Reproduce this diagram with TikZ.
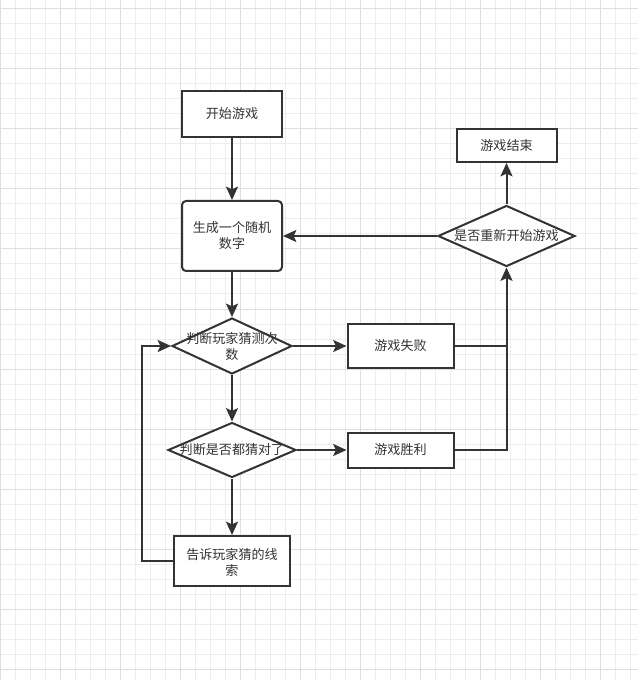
\documentclass[tikz,border=0pt]{standalone}
\usepackage{fontspec}
\setmainfont{Noto Sans CJK SC}
\usetikzlibrary{arrows.meta,shapes.geometric}
\definecolor{ln}{HTML}{333333}
\definecolor{gminor}{HTML}{EDEDED}
\definecolor{gmajor}{HTML}{DEDEDE}
\tikzset{
  box/.style={draw=ln, line width=1.5pt, fill=white, inner sep=0pt},
  dia/.style={draw=ln, line width=1.5pt, fill=white, diamond, inner sep=0pt, aspect=2},
  txt/.style={text=ln, align=center, font=\fontsize{9.8}{12}\selectfont, inner sep=0pt},
  conn/.style={draw=ln, line width=1.5pt},
  arr/.style={conn, -{Stealth[length=10pt,width=9pt,inset=2pt]}},
}
\begin{document}
\begin{tikzpicture}[x=0.75pt,y=-0.75pt]
\fill[white] (0,0) rectangle (638,680);
\useasboundingbox (0,0) rectangle (638,680);
% grid
\foreach \x in {0,15,...,630} \draw[gminor, line width=0.75pt] (\x,0) -- (\x,680);
\foreach \y in {9,24,...,669} \draw[gminor, line width=0.75pt] (0,\y) -- (638,\y);
\foreach \x in {0,60,...,600} \draw[gmajor, line width=0.75pt] (\x,0) -- (\x,680);
\foreach \y in {9,69,...,669} \draw[gmajor, line width=0.75pt] (0,\y) -- (638,\y);

% nodes
\node[box, minimum width=75pt, minimum height=34.5pt] (start) at (232,114) {};
\node[txt] (startT) at (start) {开始游戏};
\node[box, rounded corners=3pt, minimum width=75pt, minimum height=52.5pt] (gen) at (232,236) {};
\node[txt] (genT) at (232,236) {生成一个随机\\数字};
\node[dia, minimum width=90pt, minimum height=42pt] (d1) at (232,346) {};
\node[txt] (d1T) at (232,347) {判断玩家猜测次\\数};
\node[dia, minimum width=96pt, minimum height=41.25pt] (d2) at (232,450) {};
\node[txt] (d2T) at (232,450) {判断是否都猜对了};
\node[box, minimum width=87pt, minimum height=37.5pt] (clue) at (232,561) {};
\node[txt] (clueT) at (232,562) {告诉玩家猜的线\\索};
\node[box, minimum width=79.5pt, minimum height=33pt] (fail) at (400.5,346) {};
\node[txt] (failT) at (fail) {游戏失败};
\node[box, minimum width=79.5pt, minimum height=26.25pt] (win) at (400.5,450) {};
\node[txt] (winT) at (win) {游戏胜利};
\node[dia, minimum width=102.75pt, minimum height=45.75pt] (d3) at (506.5,236) {};
\node[txt] (d3T) at (d3) {是否重新开始游戏};
\node[box, minimum width=75pt, minimum height=24.75pt] (end) at (506.5,145.5) {};
\node[txt] (endT) at (end) {游戏结束};

\coordinate (lp) at (142,561);

% connectors
\draw[arr] (start.south) -- (gen.north);
\draw[arr] (gen.south) -- (d1.north);
\draw[arr] (d1.south) -- (d2.north);
\draw[arr] (d2.south) -- (clue.north);
\draw[arr] (clue.west) -- (lp) |- (d1.west);
\draw[arr] (d1.east) -- (fail.west);
\draw[arr] (d2.east) -- (win.west);
\draw[conn] (fail.east) -- (fail.east -| d3.south);
\draw[arr] (win.east) -| (d3.south);
\draw[arr] (d3.west) -- (gen.east);
\draw[arr] (d3.north) -- (end.south);
\end{tikzpicture}
\end{document}
